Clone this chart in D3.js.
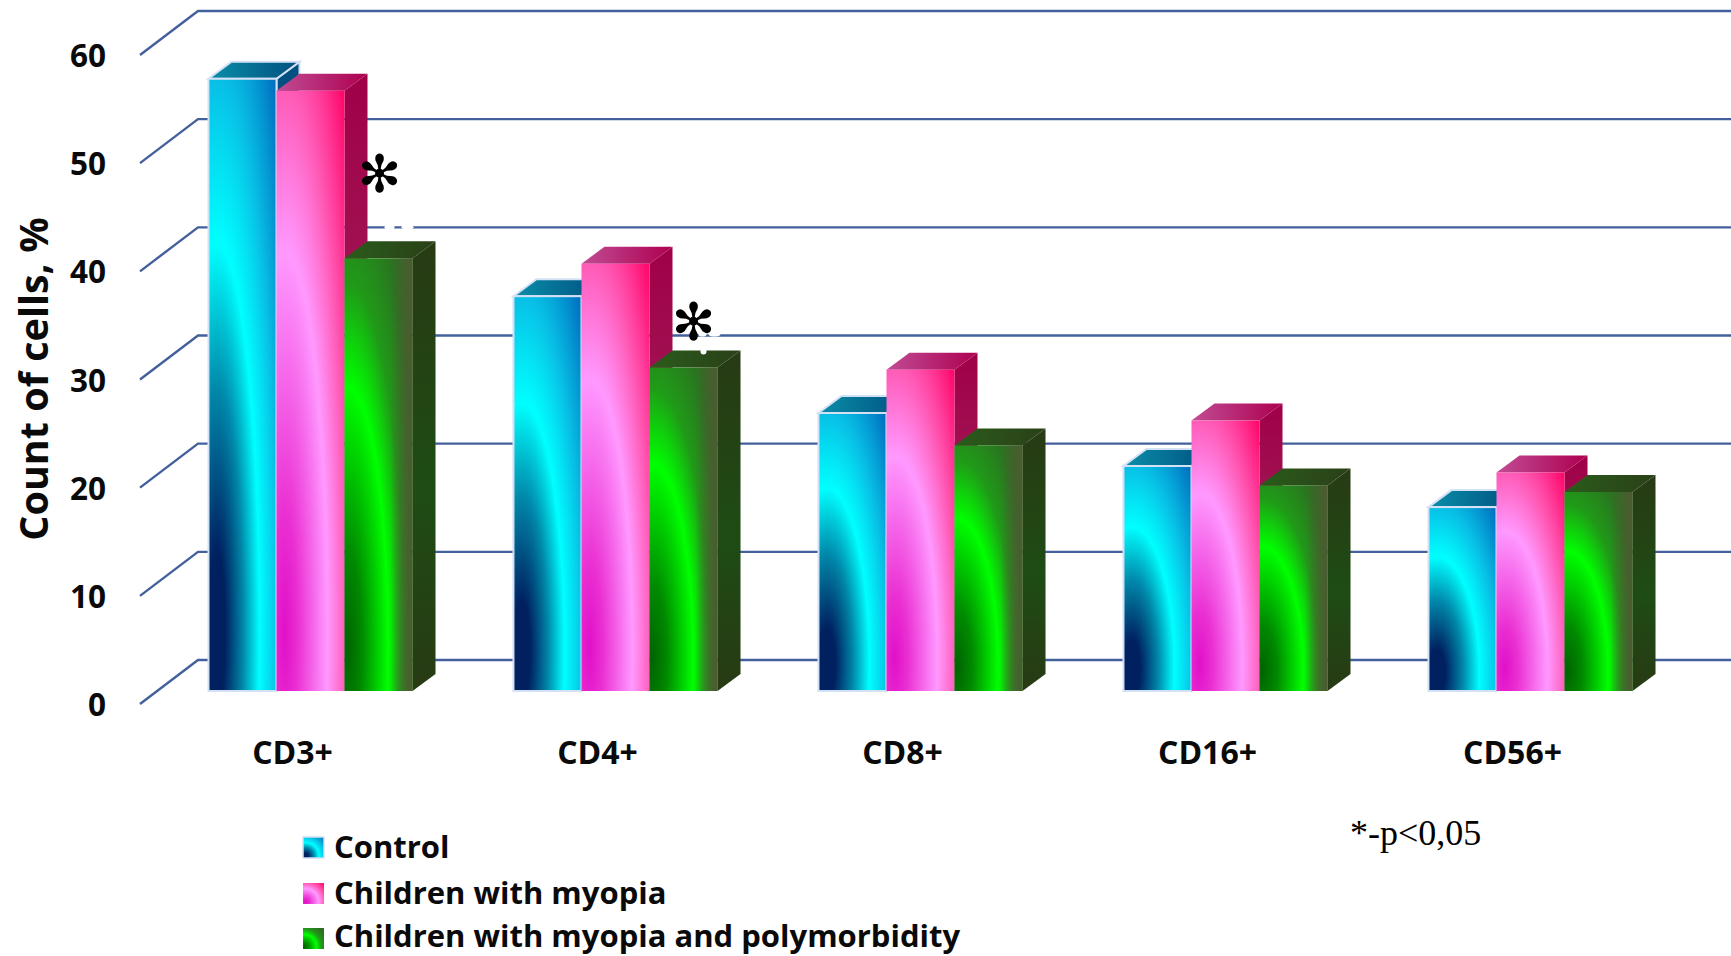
<!DOCTYPE html>
<html>
<head>
<meta charset="utf-8">
<title>Count of cells</title>
<script src="https://cdn.jsdelivr.net/npm/d3@7/dist/d3.min.js"></script>
<style>
  html, body { margin: 0; padding: 0; background: #fff; }
  svg { display: block; }
  text { font-family: "Open Sans", Lato, sans-serif; font-weight: 700; fill: #0a0a0a; }
</style>
</head>
<body>
<svg id="chart" width="1731" height="956"></svg>
<script>
// Lymphocyte subsets by patient group
const categories = ["CD3+", "CD4+", "CD8+", "CD16+", "CD56+"];
const seriesNames = ["Control", "Children with myopia", "Children with myopia and polymorbidity"];
const control = [56.6, 36.5, 25.7, 20.8, 17.0];
const myopia = [55.5, 39.5, 29.7, 25.0, 20.2];
const polymorbidity = [40.0, 29.9, 22.7, 19.0, 18.4];
const yTicks = [0, 10, 20, 30, 40, 50, 60];
const significant = ["CD3+", "CD4+"];

const seriesValues = [control, myopia, polymorbidity];
const W = 1731, H = 956;
const svg = d3.select("#chart");
const defs = svg.append("defs");

// Oblique projection of the 3D box
const wallDx = 58, wallDy = -44;      // floor front edge to back wall
const barOffDx = 18, barOffDy = -13;  // floor front edge to bar front
const barDx = 23, barDy = -17;        // depth of a bar

const x = d3.scaleBand().domain(categories).range([140, 1665]).paddingInner(0.331).paddingOuter(0.1655);
const inner = d3.scaleBand().domain(d3.range(3)).range([0, x.bandwidth()]);
const y = d3.scaleLinear().domain([0, 60]).range([704, 55]);

// Colour ramps for each series
const palettes = [
  { front: [[0, "#002060"], [0.09, "#002060"], [0.28, "#0088aa"], [0.45, "#00ffff"], [0.64, "#08c0e6"], [0.88, "#0070c0"], [1, "#0066b8"]],
    side: ["#004f80", "#005a90"], top: ["#0a8ea8", "#004f80"], stroke: "#d3e1f5" },
  { front: [[0, "#e010c8"], [0.14, "#ea30d2"], [0.45, "#ff99ff"], [0.64, "#ff5cb8"], [0.88, "#ff0a6c"], [1, "#ff0066"]],
    side: ["#a00048", "#a0205a"], top: ["#c04c94", "#ae0050"], stroke: null },
  { front: [[0, "#006400"], [0.16, "#008a00"], [0.43, "#00ff00"], [0.6, "#209a18"], [0.78, "#2a7420"], [1, "#3a6228"]],
    side: ["#283a14", "#1e4c14"], top: ["#2a5c1a", "#2a4018"], stroke: null }
];

palettes.forEach((p, i) => {
  const cx = i === 2 ? 0.04 : 0.12;
  const rad = defs.append("radialGradient").attr("id", "front" + i)
    .attr("cx", cx).attr("cy", 0.9).attr("r", 1.4).attr("fx", cx).attr("fy", 0.9);
  p.front.forEach(s => rad.append("stop").attr("offset", s[0]).attr("stop-color", s[1]));

  const side = defs.append("linearGradient").attr("id", "side" + i)
    .attr("x1", 0).attr("y1", 0).attr("x2", 0).attr("y2", 1);
  side.append("stop").attr("offset", 0).attr("stop-color", p.side[0]);
  side.append("stop").attr("offset", 0.55).attr("stop-color", p.side[1]);
  side.append("stop").attr("offset", 1).attr("stop-color", i === 2 ? "#283a14" : p.side[1]);

  const top = defs.append("linearGradient").attr("id", "top" + i)
    .attr("x1", 0).attr("y1", 0.5).attr("x2", 1).attr("y2", 0.5);
  top.append("stop").attr("offset", 0).attr("stop-color", p.top[0]);
  top.append("stop").attr("offset", 1).attr("stop-color", p.top[1]);
});

// Olive shading along the right edge of the green bars
const edge = defs.append("linearGradient").attr("id", "edgeShade")
  .attr("x1", 0).attr("y1", 0.5).attr("x2", 1).attr("y2", 0.5);
edge.append("stop").attr("offset", 0.68).attr("stop-color", "#4a5c30").attr("stop-opacity", 0);
edge.append("stop").attr("offset", 0.97).attr("stop-color", "#4a5c30").attr("stop-opacity", 1);

// Back wall gridlines with their slanted floor segment
svg.append("g").selectAll("path").data(yTicks).join("path")
  .attr("d", v => d3.line()([[x.range()[0], y(v)], [x.range()[0] + wallDx, y(v) + wallDy], [W, y(v) + wallDy]]))
  .attr("fill", "none").attr("stroke", "#44609c").attr("stroke-width", 2.4);

// Bars, painted left to right so each one overlaps its neighbour's side
const bars = svg.append("g");
categories.forEach((cat, c) => {
  seriesValues.forEach((vals, s) => {
    const x0 = x(cat) + inner(s) + barOffDx;
    const x1 = x0 + inner.bandwidth();
    const yt = y(vals[c]) + barOffDy;
    const yb = y(0) + barOffDy;
    const stroke = palettes[s].stroke;
    const poly = pts => pts.map(p => p.join(",")).join(" ");
    const g = bars.append("g").attr("stroke", stroke || "none").attr("stroke-width", stroke ? 2 : 0);
    g.append("polygon").attr("fill", `url(#side${s})`)
      .attr("points", poly([[x1, yt], [x1 + barDx, yt + barDy], [x1 + barDx, yb + barDy], [x1, yb]]));
    g.append("polygon").attr("fill", `url(#top${s})`)
      .attr("points", poly([[x0, yt], [x0 + barDx, yt + barDy], [x1 + barDx, yt + barDy], [x1, yt]]));
    g.append("rect").attr("x", x0).attr("y", yt).attr("width", x1 - x0).attr("height", yb - yt)
      .attr("fill", `url(#front${s})`);
    if (s === 2) {
      g.append("rect").attr("x", x0).attr("y", yt).attr("width", x1 - x0).attr("height", yb - yt)
        .attr("fill", "url(#edgeShade)");
    }
  });
});

// Value axis labels and title
svg.append("g").selectAll("text").data(yTicks).join("text")
  .attr("x", 106).attr("y", v => y(v) + 1).attr("dy", "0.35em")
  .attr("text-anchor", "end").attr("font-size", 31.5).text(d => d);

svg.append("text")
  .attr("transform", "translate(48,379) rotate(-90)")
  .attr("text-anchor", "middle").attr("font-size", 39.5).text("Count of cells, %");

// Category labels
svg.append("g").selectAll("text").data(categories).join("text")
  .attr("x", d => x(d) + x.bandwidth() / 2).attr("y", 764)
  .attr("text-anchor", "middle").attr("font-size", 32).text(d => d);

// Significance markers sit just above the third bar of the flagged groups
significant.forEach(cat => {
  const c = categories.indexOf(cat);
  const cx = x(cat) + inner(2) + barOffDx + inner.bandwidth() / 2 + (c === 0 ? 1 : 10);
  const cy = y(polymorbidity[c]) + barOffDy - (c === 0 ? 85 : 46);
  svg.append("text").attr("x", cx).attr("y", cy).attr("text-anchor", "middle").attr("dy", "0.36em")
    .style("font-family", "'DejaVu Sans'").style("font-weight", 400).style("fill", "#000")
    .attr("font-size", 52).text("\u273B");
  // Small white flecks left over around the marker
  const flecks = c === 0 ? [[10, 54, 5, 2.5], [28, 54, 6, 2.5], [19, 49, 2, 2]]
                         : [[9, 13, 4, 2], [21, 13, 6, 2], [10, 30, 3, 3]];
  flecks.forEach(f => svg.append("ellipse").attr("cx", cx + f[0]).attr("cy", cy + f[1])
    .attr("rx", f[2]).attr("ry", f[3]).attr("fill", "#fff"));
});

// Legend
const legend = svg.append("g").selectAll("g").data(seriesNames).join("g")
  .attr("transform", (d, i) => `translate(303,${[847, 893, 936][i]})`);
legend.append("rect").attr("x", 0).attr("y", (d, i) => i === 2 ? -8 : -10).attr("width", 21).attr("height", 21)
  .attr("fill", (d, i) => `url(#front${i})`)
  .attr("stroke", (d, i) => palettes[i].stroke || "none").attr("stroke-width", 1.5);
legend.append("text").attr("x", 31).attr("y", 0).attr("dy", "0.36em")
  .attr("font-size", 31).text(d => d);

// Significance footnote
svg.append("text").attr("x", 1350).attr("y", 845)
  .style("font-family", "'Liberation Serif'").style("font-weight", 400).style("fill", "#000")
  .attr("font-size", 36).text("*-p<0,05");
</script>
</body>
</html>
